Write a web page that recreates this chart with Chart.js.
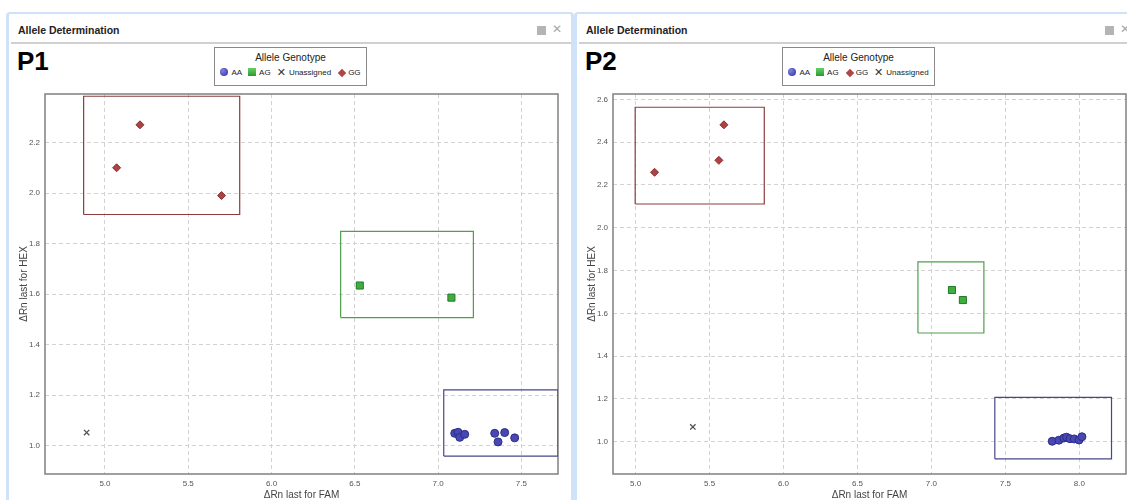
<!DOCTYPE html>
<html lang="en">
<head>
<meta charset="UTF-8">
<title>Allele Determination</title>
<style>
  html, body { margin:0; padding:0; background:#fff; overflow:hidden; }
  body { width:1127px; height:500px; position:relative; font-family:"Liberation Sans", Arial, sans-serif; }
  .panel { position:absolute; top:12px; width:568px; height:520px; box-sizing:border-box;
           border:3px solid #cfe2f7; border-top-width:2px; border-radius:4px 4px 0 0; background:#fff; overflow:hidden; }
  .head { position:absolute; left:9px; top:10px; font-size:10.5px; font-weight:bold; color:#222; }
  .sep { position:absolute; left:2px; right:0; top:28px; height:2px; background:#d0d0d0; }
  .icon-sq { position:absolute; left:528px; top:12px; width:9px; height:9px; background:#b4b4b4; }
  .icon-x { position:absolute; left:543px; top:8px; font-size:12px; color:#a8a8a8; font-family:"DejaVu Sans"; font-weight:bold; }
  .tag { position:absolute; left:8px; top:34px; font-size:26px; font-weight:bold; line-height:26px; color:#000; }
  .legend { position:absolute; left:205px; top:33px; width:153px; height:39px; box-sizing:border-box;
            border:1px solid #8a8a8a; text-align:center; background:#fff; }
  .legend .lt { font-size:10px; color:#222; margin-top:4px; line-height:12px; }
  .legend .li { font-size:8px; color:#222; margin-top:4px; white-space:nowrap; line-height:10px; }
  .mk { display:inline-block; vertical-align:-1px; margin:0 3px 0 6px; }
  .mk:first-child { margin-left:0; }
  .mk-AA { width:8px; height:8px; border-radius:50%; background:radial-gradient(circle at 35% 35%, #8080e6, #2e2e9c); }
  .mk-AG { width:8px; height:8px; background:linear-gradient(#66d066, #2e9a2e); }
  .mk-GG { width:6px; height:6px; background:#b04545; transform:rotate(45deg); margin-left:8px; }
  .mk-Unassigned { font-family:"DejaVu Sans"; font-size:11px; color:#333; vertical-align:-1px; line-height:8px; }
  canvas { position:absolute; left:0; top:30px; }
</style>
</head>
<body>
<div class="panel" style="left:6px">
  <div class="head">Allele Determination</div>
  <div class="icon-sq"></div><div class="icon-x">✕</div>
  <div class="sep"></div>
  <div class="tag">P1</div>
  <canvas id="chart1" width="562" height="476"></canvas>
  <div class="legend" id="legend1"></div>
</div>
<div class="panel" style="left:574px">
  <div class="head">Allele Determination</div>
  <div class="icon-sq"></div><div class="icon-x">✕</div>
  <div class="sep"></div>
  <div class="tag">P2</div>
  <canvas id="chart2" width="562" height="476"></canvas>
  <div class="legend" id="legend2"></div>
</div>

<script src="https://cdn.jsdelivr.net/npm/chart.js"></script>
<script>
// ---- P1 data ----
const p1Order = ['AA', 'AG', 'Unassigned', 'GG'];
const p1AAx = [7.10, 7.12, 7.13, 7.16, 7.34, 7.40, 7.36, 7.46];
const p1AAy = [1.049, 1.053, 1.033, 1.045, 1.049, 1.052, 1.015, 1.031];
const p1AGx = [6.53, 7.08];
const p1AGy = [1.634, 1.586];
const p1GGx = [5.21, 5.07, 5.70];
const p1GGy = [2.27, 2.10, 1.99];
const p1UNx = [4.89];
const p1UNy = [1.052];
// cluster boxes: [xmin, xmax, ymin, ymax]
const p1AABox = [7.034, 7.72, 0.959, 1.221];
const p1AGBox = [6.415, 7.212, 1.507, 1.848];
const p1GGBox = [4.872, 5.809, 1.915, 2.383];
const p1XRange = [4.64, 7.72];
const p1YRange = [0.888, 2.392];
const p1XTicks = [5.0, 5.5, 6.0, 6.5, 7.0, 7.5];
const p1YTicks = [1.0, 1.2, 1.4, 1.6, 1.8, 2.0, 2.2];

// ---- P2 data ----
const p2Order = ['AA', 'AG', 'GG', 'Unassigned'];
const p2AAx = [7.817, 7.862, 7.896, 7.914, 7.937, 7.966, 7.998, 8.018];
const p2AAy = [1.002, 1.007, 1.017, 1.021, 1.014, 1.013, 1.008, 1.023];
const p2AGx = [7.139, 7.213];
const p2AGy = [1.709, 1.662];
const p2GGx = [5.597, 5.563, 5.128];
const p2GGy = [2.481, 2.315, 2.259];
const p2UNx = [5.387];
const p2UNy = [1.069];
const p2AABox = [7.429, 8.218, 0.92, 1.207];
const p2AGBox = [6.909, 7.355, 1.508, 1.84];
const p2GGBox = [4.997, 5.87, 2.111, 2.563];
const p2XRange = [4.847, 8.316];
const p2YRange = [0.849, 2.625];
const p2XTicks = [5.0, 5.5, 6.0, 6.5, 7.0, 7.5, 8.0];
const p2YTicks = [1.0, 1.2, 1.4, 1.6, 1.8, 2.0, 2.2, 2.4, 2.6];

const FONT = '"Liberation Sans", Arial, sans-serif';
const styles = {
  AA: { pointStyle: 'circle', pointRadius: 4, backgroundColor: '#4848b4', borderColor: '#2c2c86', borderWidth: 1, box: '#47478c' },
  AG: { pointStyle: 'rect', pointRadius: 5, backgroundColor: '#3fae3f', borderColor: '#227a22', borderWidth: 1, box: '#4f9f4f' },
  GG: { pointStyle: 'rectRot', pointRadius: 4, backgroundColor: '#ac4343', borderColor: '#8a2f2f', borderWidth: 1, box: '#8c3c3c' },
  Unassigned: { pointStyle: 'crossRot', pointRadius: 3.8, backgroundColor: '#555', borderColor: '#505050', borderWidth: 1.3, box: null }
};

function pts(xs, ys) { return xs.map((x, i) => ({ x: x, y: ys[i] })); }
function boxPts(b) {
  return [{x: b[0], y: b[2]}, {x: b[1], y: b[2]}, {x: b[1], y: b[3]}, {x: b[0], y: b[3]}, {x: b[0], y: b[2]}];
}

// full grey frame round the plot area
const frame = {
  id: 'frame',
  beforeDatasetsDraw(chart) {
    const a = chart.chartArea, ctx = chart.ctx;
    ctx.save();
    ctx.strokeStyle = '#808080';
    ctx.lineWidth = 1.5;
    ctx.strokeRect(a.left, a.top, a.right - a.left, a.bottom - a.top);
    ctx.restore();
  }
};

function buildLegend(id, order) {
  let html = '<div class="lt">Allele Genotype</div><div class="li">';
  order.forEach(g => {
    const inner = g === 'Unassigned' ? '✕' : '';
    html += '<span class="mk mk-' + g + '">' + inner + '</span>' + g;
  });
  document.getElementById(id).innerHTML = html + '</div>';
}

function makeChart(id, series, boxes, xRange, yRange, xTicks, yTicks) {
  const datasets = [];
  Object.keys(series).forEach(g => {
    const s = styles[g];
    datasets.push({
      label: g, data: series[g], showLine: false, order: 1,
      pointStyle: s.pointStyle, pointRadius: s.pointRadius,
      backgroundColor: s.backgroundColor, borderColor: s.borderColor, borderWidth: s.borderWidth
    });
  });
  Object.keys(boxes).forEach(g => {
    datasets.push({
      label: g + ' box', data: boxPts(boxes[g]), showLine: true, order: 2,
      borderColor: styles[g].box, borderWidth: 1.2, pointRadius: 0, fill: false
    });
  });

  return new Chart(document.getElementById(id), {
    type: 'scatter',
    data: { datasets: datasets },
    plugins: [frame],
    options: {
      responsive: false, animation: false, devicePixelRatio: 1,
      layout: { padding: { top: 50, right: 13, left: 0, bottom: 0 } },
      plugins: { legend: { display: false }, tooltip: { enabled: false } },
      scales: {
        x: {
          type: 'linear', min: xRange[0], max: xRange[1],
          afterBuildTicks: s => { s.ticks = xTicks.map(v => ({ value: v })); },
          afterFit: s => { s.height = 46; },
          grid: { color: '#d2d2d2', drawTicks: false },
          border: { display: false, dash: [4, 3] },
          ticks: { padding: 5, color: '#555', font: { size: 8, family: FONT }, callback: v => v.toFixed(1) },
          title: { display: true, text: 'ΔRn last for FAM', color: '#444', font: { size: 10, family: FONT }, padding: { top: 0, bottom: 19 } }
        },
        y: {
          type: 'linear', min: yRange[0], max: yRange[1],
          afterBuildTicks: s => { s.ticks = yTicks.map(v => ({ value: v })); },
          afterFit: s => { s.width = 36; },
          grid: { color: '#d2d2d2', drawTicks: false },
          border: { display: false, dash: [4, 3] },
          ticks: { padding: 5, color: '#555', font: { size: 8, family: FONT }, callback: v => v.toFixed(1) },
          title: { display: true, text: 'ΔRn last for HEX', color: '#444', font: { size: 10, family: FONT }, padding: { top: 9, bottom: 0 } }
        }
      }
    }
  });
}

buildLegend('legend1', p1Order);
buildLegend('legend2', p2Order);

makeChart('chart1',
  { AA: pts(p1AAx, p1AAy), AG: pts(p1AGx, p1AGy), Unassigned: pts(p1UNx, p1UNy), GG: pts(p1GGx, p1GGy) },
  { AA: p1AABox, AG: p1AGBox, GG: p1GGBox },
  p1XRange, p1YRange, p1XTicks, p1YTicks);

makeChart('chart2',
  { AA: pts(p2AAx, p2AAy), AG: pts(p2AGx, p2AGy), GG: pts(p2GGx, p2GGy), Unassigned: pts(p2UNx, p2UNy) },
  { AA: p2AABox, AG: p2AGBox, GG: p2GGBox },
  p2XRange, p2YRange, p2XTicks, p2YTicks);
</script>
</body>
</html>
